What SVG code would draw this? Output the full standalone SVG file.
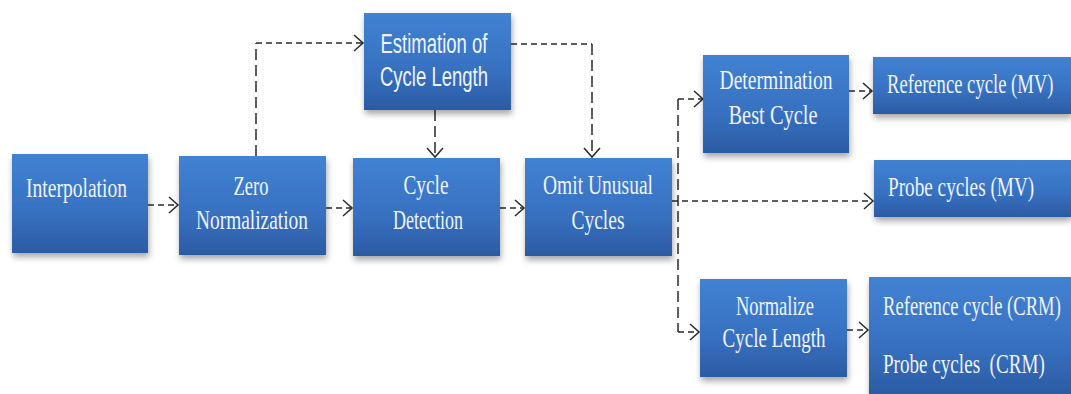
<svg xmlns="http://www.w3.org/2000/svg" width="1071" height="394" viewBox="0 0 1071 394">
<style>
.box{fill:url(#bg);filter:url(#sh)}
.t{font-family:"Liberation Serif","Times New Roman",serif;font-size:27px;fill:#eef4ff}
.s{font-family:"Liberation Sans",Arial,sans-serif;font-size:27px;fill:#eef4ff}
.c{text-anchor:middle}
.ln{fill:none;stroke:#2a2a2a;stroke-width:1.5;stroke-dasharray:6 4}
.lv{fill:none;stroke:#2a2a2a;stroke-width:1.5;stroke-dasharray:11 5}
</style>
<defs>
<linearGradient id="bg" x1="0" y1="0" x2="0" y2="1">
<stop offset="0" stop-color="#4282d3"/>
<stop offset="0.6" stop-color="#3770c0"/>
<stop offset="1" stop-color="#2b5ba3"/>
</linearGradient>
<filter id="sh" x="-10%" y="-10%" width="125%" height="135%">
<feDropShadow dx="1" dy="4" stdDeviation="3" flood-color="#000" flood-opacity="0.35"/>
</filter>
<marker id="ah" markerUnits="userSpaceOnUse" markerWidth="20" markerHeight="20" refX="10" refY="9" orient="auto" viewBox="0 0 20 18">
<path d="M1,1 L10,9 L1,17" fill="none" stroke="#2a2a2a" stroke-width="1.5"/>
</marker>
</defs>
<rect width="1071" height="394" fill="#ffffff"/>

<g id="connectors">
<path class="ln" d="M148,205 H178" marker-end="url(#ah)"/>
<path class="ln" d="M326,208 H352" marker-end="url(#ah)"/>
<path class="ln" d="M500,208 H524" marker-end="url(#ah)"/>
<path class="lv" d="M256,156 V43"/>
<path class="ln" d="M256,43 H363" marker-end="url(#ah)"/>
<path class="lv" d="M435,110 V157" marker-end="url(#ah)"/>
<path class="ln" d="M511,44 H592"/>
<path class="lv" d="M592,44 V157" marker-end="url(#ah)"/>
<path class="ln" d="M672,201 H873" marker-end="url(#ah)"/>
<path class="lv" d="M678,99 V332"/>
<path class="ln" d="M678,99 H703" marker-end="url(#ah)"/>
<path class="ln" d="M678,332 H699" marker-end="url(#ah)"/>
<path class="ln" d="M849,91 H872" marker-end="url(#ah)"/>
<path class="ln" d="M847,330 H868" marker-end="url(#ah)"/>
</g>

<g id="interpolation">
<rect class="box" x="12" y="154" width="136" height="99"/>
<text class="t c" x="76.5" y="197" textLength="101" lengthAdjust="spacingAndGlyphs">Interpolation</text>
</g>
<g id="zero-normalization">
<rect class="box" x="179" y="156" width="147" height="99"/>
<text class="t c" x="251" y="195" textLength="35" lengthAdjust="spacingAndGlyphs">Zero</text>
<text class="t c" x="252" y="229" textLength="112" lengthAdjust="spacingAndGlyphs">Normalization</text>
</g>
<g id="estimation">
<rect class="box" x="364" y="13" width="147" height="97"/>
<text class="s c" x="434" y="53" textLength="107" lengthAdjust="spacingAndGlyphs">Estimation of</text>
<text class="s c" x="434" y="86" textLength="108" lengthAdjust="spacingAndGlyphs">Cycle Length</text>
</g>
<g id="cycle-detection">
<rect class="box" x="353" y="158" width="147" height="98"/>
<text class="t c" x="426" y="194" textLength="45" lengthAdjust="spacingAndGlyphs">Cycle</text>
<text class="t c" x="428" y="229" textLength="70" lengthAdjust="spacingAndGlyphs">Detection</text>
</g>
<g id="omit-unusual">
<rect class="box" x="525" y="158" width="147" height="98"/>
<text class="t c" x="598" y="194" textLength="110" lengthAdjust="spacingAndGlyphs">Omit Unusual</text>
<text class="t c" x="598" y="229" textLength="53" lengthAdjust="spacingAndGlyphs">Cycles</text>
</g>
<g id="determination">
<rect class="box" x="703" y="55" width="146" height="98"/>
<text class="t c" x="776" y="89" textLength="113" lengthAdjust="spacingAndGlyphs">Determination</text>
<text class="t c" x="773" y="124" textLength="89" lengthAdjust="spacingAndGlyphs">Best Cycle</text>
</g>
<g id="reference-mv">
<rect class="box" x="873" y="57" width="198" height="57"/>
<text class="t" transform="translate(887,93) scale(0.69,1)">Reference cycle (MV)</text>
</g>
<g id="probe-mv">
<rect class="box" x="874" y="160" width="197" height="57"/>
<text class="t" transform="translate(888,196) scale(0.712,1)">Probe cycles (MV)</text>
</g>
<g id="normalize">
<rect class="box" x="700" y="279" width="147" height="98"/>
<text class="t c" x="775" y="315" textLength="78" lengthAdjust="spacingAndGlyphs">Normalize</text>
<text class="t c" x="774" y="347" textLength="103" lengthAdjust="spacingAndGlyphs">Cycle Length</text>
</g>
<g id="crm">
<rect class="box" x="869" y="277" width="202" height="117"/>
<text class="t" transform="translate(883,315) scale(0.69,1)">Reference cycle (CRM)</text>
<text class="t" transform="translate(883,373) scale(0.708,1)" style="white-space:pre">Probe cycles  (CRM)</text>
</g>
</svg>
